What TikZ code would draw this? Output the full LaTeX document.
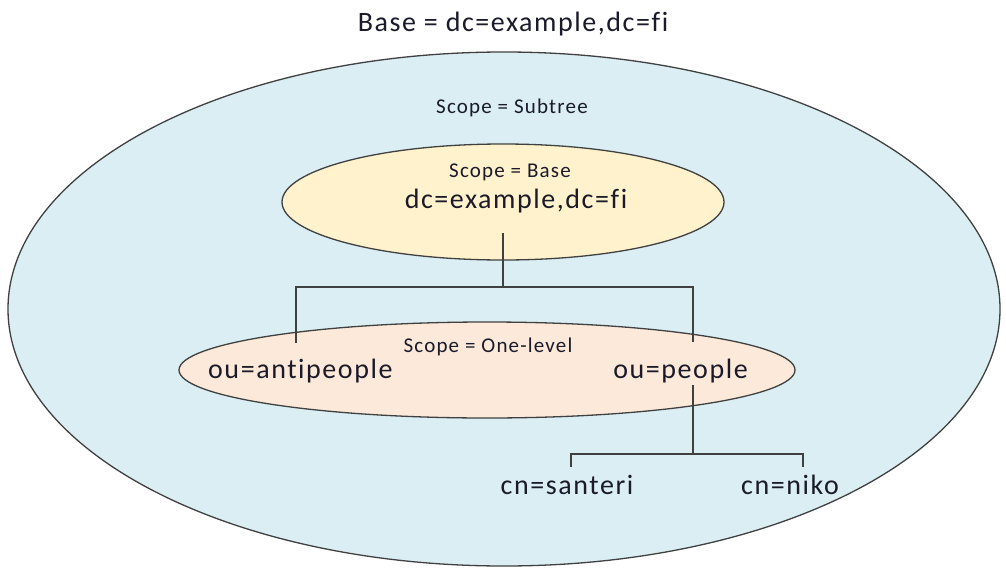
\documentclass[tikz,border=0pt]{standalone}
\usepackage{fontspec}
\setmainfont{Carlito}[LetterSpace=5.6, Ligatures=NoCommon]
\usetikzlibrary{shapes.geometric}
\definecolor{bluefill}{HTML}{DAEEF3}
\definecolor{yellowfill}{HTML}{FFF2CC}
\definecolor{pinkfill}{HTML}{FDE9D9}
\definecolor{edge}{HTML}{404040}
\definecolor{txt}{HTML}{1A1A2A}
\tikzset{
  ell/.style={ellipse, draw=edge, line width=1.3pt, inner sep=0pt},
  conn/.style={draw=edge, line width=1.8pt},
  big/.style={font=\fontsize{28}{30}\selectfont, inner sep=0pt, text=txt},
  small/.style={font=\fontsize{21}{23}\selectfont, inner sep=0pt, text=txt},
}
\begin{document}
\begin{tikzpicture}[x=1pt, y=-1pt]
\useasboundingbox (0,0) rectangle (1006,570);
\fill[white] (0,0) rectangle (1006,570);
% ellipses
\node[ell, fill=bluefill, minimum width=992pt, minimum height=514pt] (subtree) at (504,309) {};
\node[ell, fill=yellowfill, minimum width=442pt, minimum height=116pt] (baseell) at (503,202) {};
\node[ell, fill=pinkfill, minimum width=616pt, minimum height=96pt] (oneell) at (487,370) {};
% texts
\node[big] (title) at (513,24) {Base = dc=example,dc=fi};
\node[small] (lsub) at (512,108) {Scope = Subtree};
\node[small] (lbase) at (510,172) {Scope = Base};
\node[big] (dc) at (516,201) {dc=example,dc=fi};
\node[small] (lone) at (488,347) {Scope = One-level};
\node[big, anchor=west] (anti) at (208,371) {ou=antipeople};
\node[big, anchor=east] (people) at (748,371) {ou=people};
\node[big] (santeri) at (567,485) {cn=santeri};
\node[big] (niko) at (790,485) {cn=niko};
% connectors
\coordinate (b1) at (503,233);
\coordinate (j1) at (503,287);
\coordinate (a1) at (296,343);
\coordinate (p1) at (693,342);
\draw[conn] (b1) -- (j1);
\draw[conn] (a1) |- (j1) -| (p1);
\coordinate (p2) at (693,385);
\coordinate (j2) at (693,454);
\coordinate (s1) at (571,467);
\coordinate (n1) at (803,467);
\draw[conn] (p2) -- (j2);
\draw[conn] (s1) |- (j2) -| (n1);
\end{tikzpicture}
\end{document}
